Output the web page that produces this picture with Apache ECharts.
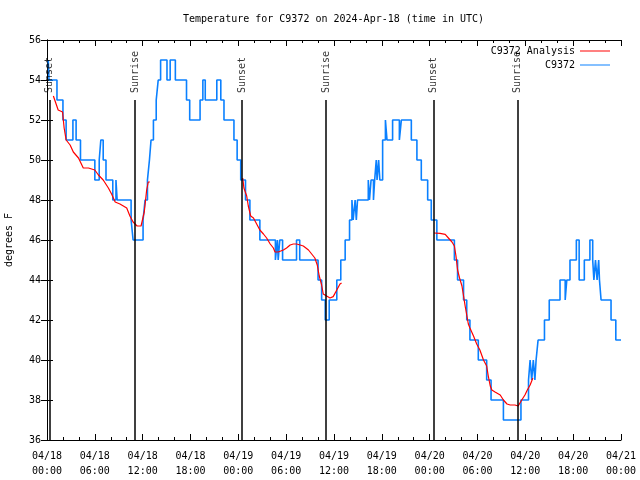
<!DOCTYPE html>
<html>
<head>
<meta charset="utf-8">
<script src="https://cdn.jsdelivr.net/npm/echarts@6/dist/echarts.min.js"></script>
<style>html,body{margin:0;padding:0;background:#fff}#c{width:640px;height:480px}</style>
</head>
<body>
<div id="c"></div>
<script>
// X positions are hours since 04/18 00:00 UTC
const tickLabels = ['04/18\n00:00','04/18\n06:00','04/18\n12:00','04/18\n18:00','04/19\n00:00','04/19\n06:00','04/19\n12:00','04/19\n18:00','04/20\n00:00','04/20\n06:00','04/20\n12:00','04/20\n18:00','04/21\n00:00'];
const yTicks = [36,38,40,42,44,46,48,50,52,54,56];

const eventNames = ['Sunset','Sunrise','Sunset','Sunrise','Sunset','Sunrise'];
const eventHours = [0.35, 11.05, 24.45, 35.0, 48.45, 59.0];

// C9372 observations (step changes): [hour, degrees F]
const obsHours = [0.16,0.25,1.25,2.0,2.4,3.25,3.65,4.2,6.0,6.55,6.75,7.05,7.4,8.25,8.65,8.8,10.55,10.8,12.05,12.3,12.6,12.85,13.05,13.35,13.7,13.95,14.25,15.05,15.45,16.1,17.5,17.9,19.2,19.55,19.85,21.3,21.8,22.2,23.45,23.85,24.3,24.9,25.45,26.7,28.65,28.9,29.0,29.2,29.55,31.3,31.7,34.0,34.45,34.9,35.4,36.35,36.85,37.4,37.95,38.25,38.4,38.65,38.8,38.95,40.3,40.45,40.65,40.95,41.1,41.3,41.4,41.6,41.75,42.1,42.45,42.65,43.35,44.2,44.45,45.7,46.4,46.95,47.75,48.2,48.9,51.1,51.5,52.25,52.65,53.05,54.1,55.15,55.7,57.25,59.45,60.4,60.6,60.8,61.0,61.2,61.35,61.6,62.4,63.0,64.35,65.0,65.2,65.6,66.4,66.75,67.4,68.1,68.45,68.6,68.8,69.0,69.2,69.3,69.5,70.75,71.35,72.0];
const obsTemps = [55,54,53,52,51,52,51,50,49,50,51,50,49,48,49,48,47,46,47,48,49,50,51,52,53,54,55,54,55,54,53,52,53,54,53,54,53,52,51,50,49,48,47,46,45,46,45,46,45,46,45,44,43,42,43,44,45,46,47,48,47,48,47,48,49,48,49,48,49,50,49,50,49,51,52,51,52,51,52,51,50,49,48,47,46,45,44,43,42,41,40,39,38,37,38,39,40,39,40,39,40,41,42,43,44,43,44,45,46,44,45,46,45,44,45,44,45,44,43,42,41,41];

// C9372 Analysis (three segments, separated by null)
const anaHours = [0.8,1.4,1.95,2.15,2.4,2.9,3.3,3.95,4.55,5.2,6.0,6.45,7.05,7.7,8.1,8.55,9.15,10.0,10.4,10.8,11.3,11.8,12.2,12.5,12.7,12.9,
  null,
  24.55,24.7,25.05,25.25,25.55,25.9,26.3,26.7,27.15,27.55,28.0,28.4,28.6,29.0,29.65,30.05,30.5,30.9,31.3,31.75,32.15,32.8,33.2,33.6,33.9,34.15,34.45,34.65,34.9,35.5,35.9,36.35,36.75,36.95,
  null,
  48.55,49.3,49.95,50.35,50.8,51.1,51.3,51.5,51.75,52.05,52.25,52.45,52.65,52.85,53.05,53.5,53.9,54.3,54.75,55.15,55.35,55.6,55.8,56.2,56.85,57.25,57.7,58.1,58.7,59.1,59.55,59.95,60.25,60.6,60.95];
const anaTemps = [53.2,52.5,52.4,51.6,51.0,50.75,50.4,50.1,49.6,49.6,49.5,49.25,49.0,48.6,48.3,47.9,47.8,47.6,47.2,46.9,46.7,46.7,47.4,48.5,48.9,48.9,
  null,
  49.1,48.6,48.2,47.7,47.2,47.1,46.8,46.5,46.3,46.1,45.8,45.6,45.4,45.4,45.5,45.6,45.75,45.8,45.8,45.75,45.7,45.5,45.3,45.1,44.75,44.2,43.75,43.3,43.2,43.1,43.17,43.5,43.8,43.85,
  null,
  46.35,46.33,46.28,46.1,45.9,45.7,45.2,44.5,44.1,43.7,43.2,42.7,42.25,41.8,41.6,41.2,40.8,40.5,40.0,39.7,39.2,38.7,38.5,38.4,38.25,38.0,37.8,37.75,37.75,37.7,38.0,38.25,38.5,38.75,39.1];

const FONT = 'DejaVu Sans Mono';
const BLUE = '#0a80ff';
const obsData = obsHours.map((h,i)=>[h, obsTemps[i]]);
const anaData = anaHours.map((h,i)=> h === null ? '-' : [h, anaTemps[i]]);

const chart = echarts.init(document.getElementById('c'), null, {renderer:'canvas'});
const xCommon = {
  type:'value', min:0, max:72, interval:6,
  axisLine:{show:true, lineStyle:{color:'#000', width:1}},
  axisTick:{show:true, inside:true, length:6, lineStyle:{color:'#000'}},
  minorTick:{show:true, splitNumber:3, length:3, lineStyle:{color:'#000'}},
  splitLine:{show:false}
};
const yCommon = {
  type:'value', min:36, max:56, interval:2,
  axisLine:{show:true, lineStyle:{color:'#000', width:1}},
  axisTick:{show:true, inside:true, length:6, lineStyle:{color:'#000'}},
  splitLine:{show:false}
};
chart.setOption({
  animation:false,
  backgroundColor:'#fff',
  textStyle:{fontFamily:FONT},
  title:{text:'Temperature for C9372 on 2024-Apr-18 (time in UTC)', left:183, top:14, padding:0,
    textStyle:{fontFamily:FONT, fontSize:10, fontWeight:'normal', color:'#000'}},
  legend:{
    data:['C9372 Analysis','C9372'], orient:'vertical', right:25, top:41,
    align:'right', itemWidth:30, itemHeight:1, itemGap:4, icon:'rect',
    textStyle:{fontFamily:FONT, fontSize:10, color:'#000', padding:[0,0,0,0]}
  },
  grid:{left:47, right:19, top:40, bottom:40, containLabel:false, outerBoundsMode:'none'},
  xAxis:[
    Object.assign({}, xCommon, {position:'bottom',
      axisLabel:{show:true, margin:9, fontFamily:FONT, fontSize:10, color:'#000', lineHeight:15,
        formatter:(v)=>tickLabels[Math.round(v/6)]}}),
    Object.assign({}, xCommon, {position:'top', axisLabel:{show:false}})
  ],
  yAxis:[
    Object.assign({}, yCommon, {position:'left', name:'degrees F', nameLocation:'middle', nameGap:33, nameRotate:90,
      nameTextStyle:{fontFamily:FONT, fontSize:10, color:'#000'},
      axisLabel:{show:true, margin:6, fontFamily:FONT, fontSize:10, color:'#000',
        formatter:(v)=> yTicks.indexOf(v) >= 0 ? String(v) : ''}}),
    Object.assign({}, yCommon, {position:'right', axisLabel:{show:false}})
  ],
  series:[
    {name:'C9372', type:'line', step:'end', data:obsData, symbol:'none', showSymbol:false,
      lineStyle:{color:BLUE, width:1.6}, itemStyle:{color:BLUE}, z:2,
      markLine:{symbol:['none','none'], silent:true, animation:false,
        lineStyle:{color:'#000', width:1.5, type:'solid'}, label:{show:false},
        data: eventHours.map(h=>[{coord:[h,36]},{coord:[h,53]}])}},
    {name:'C9372 Analysis', type:'line', data:anaData, symbol:'none', showSymbol:false, connectNulls:false,
      lineStyle:{color:'#ff0000', width:1.2}, itemStyle:{color:'#ff0000'}, z:3},
    {name:'events', type:'scatter', symbolSize:0, silent:true, z:4,
      data: eventHours.map((h,i)=>({value:[h,53.35], name:eventNames[i]})),
      label:{show:true, formatter:'{b}', position:'inside', align:'left', verticalAlign:'middle', rotate:90,
        fontFamily:FONT, fontSize:10, color:'#000'}}
  ]
});
</script>
</body>
</html>
